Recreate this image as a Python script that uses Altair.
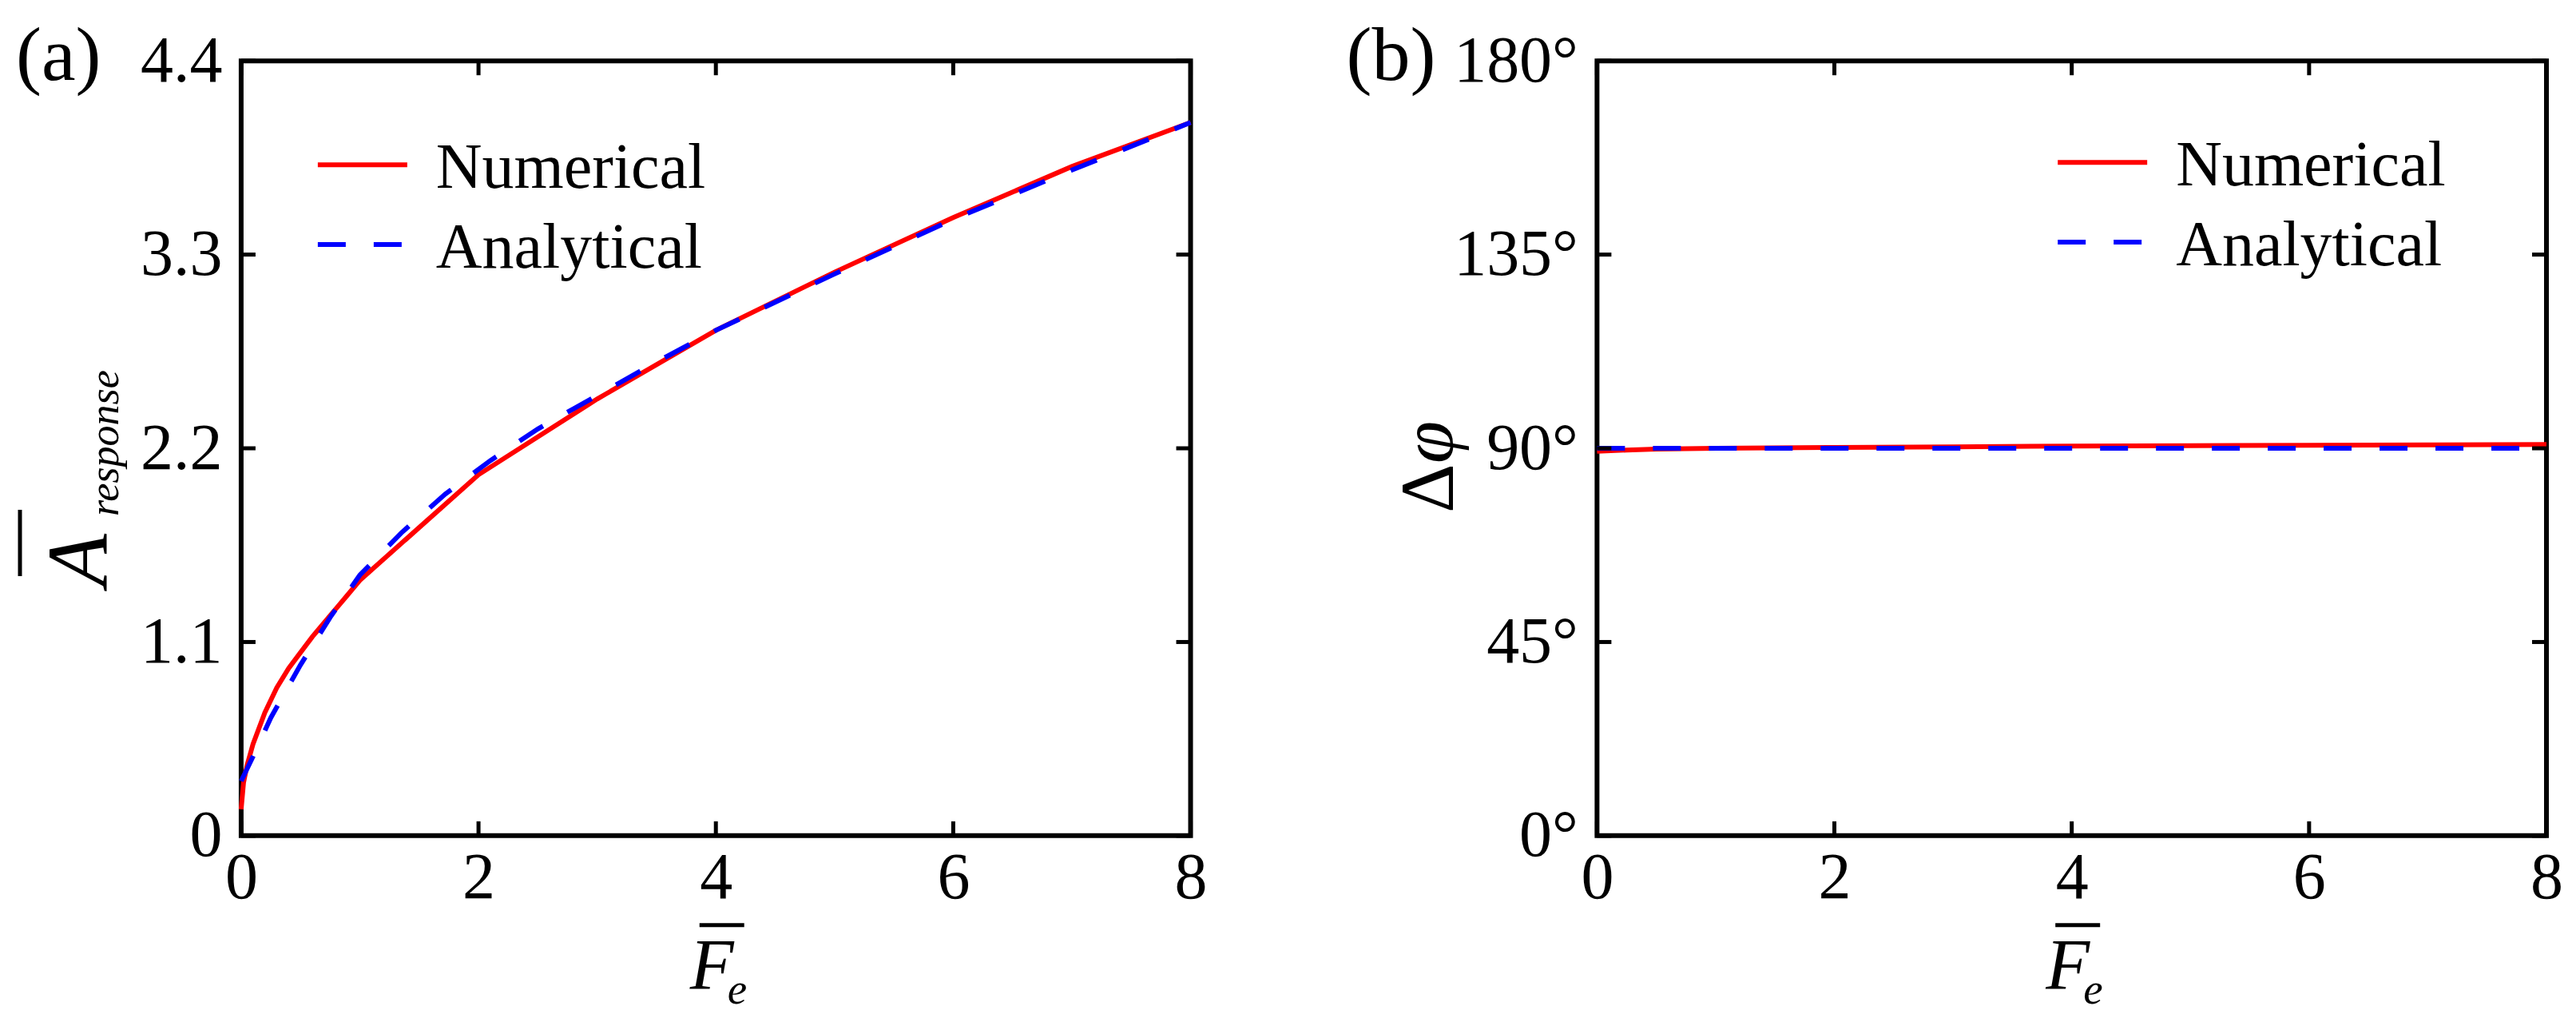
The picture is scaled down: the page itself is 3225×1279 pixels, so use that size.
import altair as alt
import pandas as pd

# ---------------- data ----------------
# panel (a): response amplitude
num_a_x = [0, 0.02, 0.05, 0.1, 0.2, 0.3, 0.4, 0.5, 0.6, 0.7, 0.8, 0.9, 1, 2, 3, 4, 5, 6, 7, 8]
num_a_y = [0.15, 0.30, 0.40, 0.52, 0.70, 0.84, 0.95, 1.04, 1.13, 1.21, 1.29, 1.37, 1.45,
           2.05, 2.48, 2.87, 3.20, 3.51, 3.80, 4.05]
ana_a_x = [0, 0.1, 0.25, 0.5, 0.75, 1, 1.35, 1.72, 2.1, 2.5, 3, 3.5, 4, 5, 6, 7, 8]
ana_a_y = [0.31, 0.45, 0.67, 0.97, 1.24, 1.48, 1.72, 1.94, 2.13, 2.31, 2.50, 2.69, 2.87,
           3.19, 3.50, 3.78, 4.05]

# panel (b): phase difference (degrees)
num_b_x = [0, 0.25, 0.5, 1, 2, 3, 4, 5, 6, 7, 8]
num_b_y = [89.3, 89.6, 89.8, 90.0, 90.2, 90.35, 90.5, 90.6, 90.7, 90.8, 90.9]
ana_b_x = [0, 8]
ana_b_y = [90.0, 90.0]

x_ticks = [0, 2, 4, 6, 8]
a_y_ticks = [0, 1.1, 2.2, 3.3, 4.4]
b_y_ticks = [0, 45, 90, 135, 180]
legend_labels = ["Numerical", "Analytical"]
panel_tags = ["(a)", "(b)"]

# ---------------- styling ----------------
W, H = 1189, 970
FONT = "Liberation Serif"
FS = 82
RED = "#ff0000"
BLUE = "#0000ff"
TICK = 18
one = pd.DataFrame({"k": [0]})


def txt(text, x, y, size=FS, style="normal", angle=0, align="left"):
    return alt.Chart(one).mark_text(
        text=text, font=FONT, fontSize=size, fontStyle=style, color="black",
        align=align, baseline="alphabetic", angle=angle
    ).encode(x=alt.value(x), y=alt.value(y))


def bar(x, x2, y, y2):
    return alt.Chart(one).mark_rule(color="black", strokeWidth=5).encode(
        x=alt.value(x), x2=alt.value(x2), y=alt.value(y), y2=alt.value(y2))


def panel(nx, ny, ax, ay, ydom, yticks, yexpr, tag, tag_x, legend_x, legend_y, ytitle_layers):
    xscale = alt.Scale(domain=[0, 8], nice=False, zero=False)
    yscale = alt.Scale(domain=ydom, nice=False, zero=False)
    xaxis = alt.Axis(values=x_ticks, title=None, domain=False, ticks=False, grid=False,
                     labelFont=FONT, labelFontSize=FS, labelColor="black", labelPadding=13,
                     labelFlush=False, labelOverlap=False)
    yaxis = alt.Axis(values=yticks, title=None, domain=False, ticks=False, grid=False,
                     labelFont=FONT, labelFontSize=FS, labelColor="black", labelPadding=24,
                     labelFlush=False, labelOverlap=False, labelExpr=yexpr)

    def X(f):
        return alt.X(f, scale=xscale, axis=xaxis)

    def Y(f):
        return alt.Y(f, scale=yscale, axis=yaxis)

    num_df = pd.DataFrame({"x": nx, "y": ny})
    ana_df = pd.DataFrame({"x": ax, "y": ay})
    xt = pd.DataFrame({"v": x_ticks})
    yt = pd.DataFrame({"v": yticks})

    red = alt.Chart(num_df).mark_line(color=RED, strokeWidth=6).encode(x=X("x:Q"), y=Y("y:Q"))
    blue = alt.Chart(ana_df).mark_line(color=BLUE, strokeWidth=6, strokeDash=[35, 35]).encode(
        x=X("x:Q"), y=Y("y:Q"))

    tb = alt.Chart(xt).mark_rule(color="black", strokeWidth=5).encode(
        x=X("v:Q"), y=alt.value(H), y2=alt.value(H - TICK))
    tt = alt.Chart(xt).mark_rule(color="black", strokeWidth=5).encode(
        x=X("v:Q"), y=alt.value(0), y2=alt.value(TICK))
    tl = alt.Chart(yt).mark_rule(color="black", strokeWidth=5).encode(
        y=Y("v:Q"), x=alt.value(0), x2=alt.value(TICK))
    tr = alt.Chart(yt).mark_rule(color="black", strokeWidth=5).encode(
        y=Y("v:Q"), x=alt.value(W), x2=alt.value(W - TICK))

    # legend
    leg_red = alt.Chart(one).mark_rule(color=RED, strokeWidth=6).encode(
        x=alt.value(legend_x), x2=alt.value(legend_x + 112), y=alt.value(legend_y))
    leg_blue = alt.Chart(one).mark_rule(color=BLUE, strokeWidth=6, strokeDash=[35, 35]).encode(
        x=alt.value(legend_x), x2=alt.value(legend_x + 112), y=alt.value(legend_y + 100))
    leg_t1 = txt(legend_labels[0], legend_x + 148, legend_y + 29, size=80)
    leg_t2 = txt(legend_labels[1], legend_x + 148, legend_y + 129, size=80)

    # x title: F-bar with subscript e
    xt1 = txt("F", 562, 1162, size=90, style="italic")
    xt2 = txt("e", 609, 1180, size=55, style="italic")
    xbar = bar(574, 630, 1082, 1082)

    tag_t = txt(tag, tag_x, 24, size=96)

    return alt.layer(red, blue, tb, tt, tl, tr, leg_red, leg_blue, leg_t1, leg_t2,
                     xt1, xt2, xbar, tag_t, *ytitle_layers).properties(width=W, height=H)


# y title (a): A-bar with subscript "response"
ya = [
    txt("A", -168, 658, size=108, style="italic", angle=270),
    txt("response", -154, 570, size=52, style="italic", angle=270),
    bar(-277, -277, 562, 645),
]
# y title (b): Delta phi
yb = [
    txt("Δ", -180, 566, size=96, angle=270),
    txt("φ", -180, 504, size=96, style="italic", angle=270),
]

pa = panel(num_a_x, num_a_y, ana_a_x, ana_a_y, [0, 4.4], a_y_ticks,
           "datum.value == 0 ? '0' : format(datum.value, '.1f')", panel_tags[0], -282, 96, 130, ya)
pb = panel(num_b_x, num_b_y, ana_b_x, ana_b_y, [0, 180], b_y_ticks,
           "format(datum.value, 'd') + '°'", panel_tags[1], -314, 577, 127, yb)

chart = alt.hconcat(pa, pb, spacing=509, bounds="flush").resolve_scale(
    x="independent", y="independent"
).properties(
    padding={"left": 9, "top": 12, "right": 5, "bottom": 5},
    background="white",
).configure_view(stroke="black", strokeWidth=6)

chart.save("out.html", embed_options={"renderer": "svg", "actions": False})
